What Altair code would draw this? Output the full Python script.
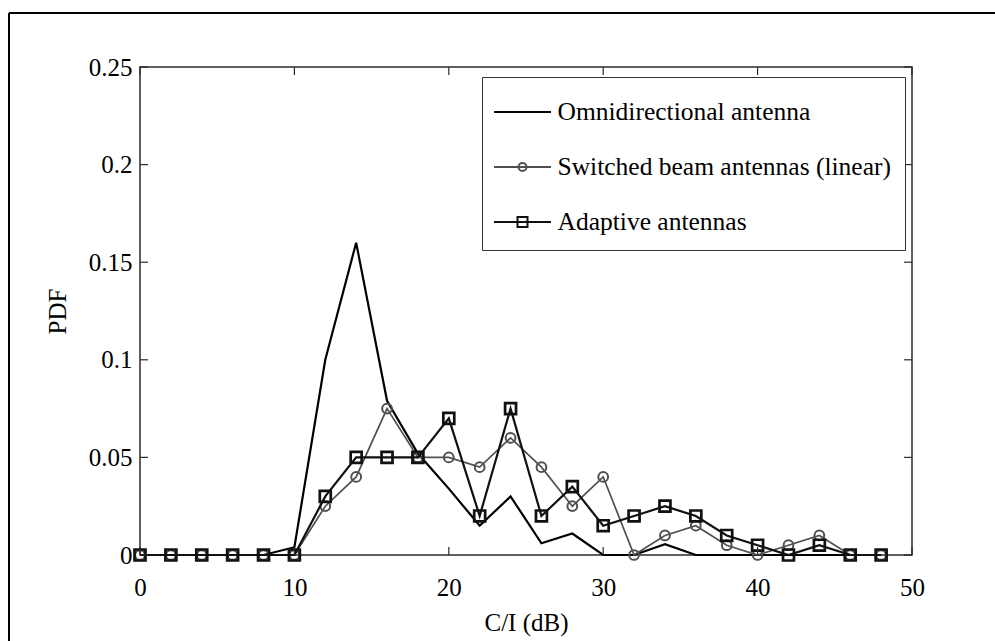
import altair as alt
import pandas as pd

# ---------------- data ----------------
x_vals = [0, 2, 4, 6, 8, 10, 12, 14, 16, 18, 20, 22, 24, 26, 28, 30, 32, 34, 36, 38, 40, 42, 44, 46, 48]
omni = [0, 0, 0, 0, 0, 0.004, 0.1, 0.16, 0.079, 0.052, 0.034, 0.015, 0.03, 0.006, 0.011,
        0, 0, 0.0055, 0, 0, 0, 0, 0, 0, 0]
switched = [0, 0, 0, 0, 0, 0, 0.025, 0.04, 0.075, 0.05, 0.05, 0.045, 0.06, 0.045, 0.025,
            0.04, 0, 0.01, 0.015, 0.005, 0, 0.005, 0.01, 0, 0]
adaptive = [0, 0, 0, 0, 0, 0, 0.03, 0.05, 0.05, 0.05, 0.07, 0.02, 0.075, 0.02, 0.035,
            0.015, 0.02, 0.025, 0.02, 0.01, 0.005, 0, 0.005, 0, 0]

series_names = ["Omnidirectional antenna", "Switched beam antennas (linear)", "Adaptive antennas"]
series_colors = ["#000000", "#505050", "#111111"]
x_ticks = [0, 10, 20, 30, 40, 50]
y_ticks = [0, 0.05, 0.1, 0.15, 0.2, 0.25]

# legend symbols: line sample with marker (custom paths, nominal radius 20 px)
legend_paths = [
    "M-1.425,0L1.425,0",
    "M-1.425,0L1.425,0M0.2,0A0.2,0.2,0,1,1,-0.2,0A0.2,0.2,0,1,1,0.2,0",
    "M-1.425,0L1.425,0M-0.25,-0.25L0.25,-0.25L0.25,0.25L-0.25,0.25Z",
]

rows = []
for name, vals in zip(series_names, [omni, switched, adaptive]):
    for xv, yv in zip(x_vals, vals):
        rows.append({"x": xv, "y": yv, "series": name})
df = pd.DataFrame(rows)

W, H = 772, 488
FONT = "Liberation Serif"
FRAME = "#2b2b2b"

xscale = alt.Scale(domain=[0, 50], nice=False, zero=False)
yscale = alt.Scale(domain=[0, 0.25], nice=False, zero=False)

x_axis = alt.Axis(values=x_ticks, ticks=False, tickSize=0, domain=False, grid=False,
                  labelFont=FONT, labelFontSize=25, labelColor="black", labelPadding=20,
                  titleFont=FONT, titleFontSize=25, titleFontWeight="normal", titleColor="black",
                  titlePadding=10, labelFlush=False)
y_axis = alt.Axis(values=y_ticks, ticks=False, tickSize=0, domain=False, grid=False,
                  labelFont=FONT, labelFontSize=25, labelColor="black", labelPadding=8,
                  labelExpr="datum.value == 0 ? '0' : format(datum.value, '~g')",
                  titleFont=FONT, titleFontSize=25, titleFontWeight="normal", titleColor="black",
                  titlePadding=18, labelFlush=False)


def X(field):
    return alt.X(field, scale=xscale, axis=x_axis, title="C/I (dB)")


def Y(field):
    return alt.Y(field, scale=yscale, axis=y_axis, title="PDF")


def sel(name):
    return alt.Chart(df).transform_filter(alt.datum.series == name)


omni_line = sel(series_names[0]).mark_line(color=series_colors[0], strokeWidth=2.2).encode(
    x=X("x:Q"), y=Y("y:Q"))

sw_line = sel(series_names[1]).mark_line(color=series_colors[1], strokeWidth=1.7).encode(
    x=X("x:Q"), y=Y("y:Q"))
sw_pts = sel(series_names[1]).mark_point(shape="circle", filled=False, color=series_colors[1],
                                          strokeWidth=2, size=95, opacity=1).encode(
    x=X("x:Q"), y=Y("y:Q"))

ad_line = sel(series_names[2]).mark_line(color=series_colors[2], strokeWidth=2.2).encode(
    x=X("x:Q"), y=Y("y:Q"))
ad_pts = sel(series_names[2]).mark_point(shape="square", filled=False, color=series_colors[2],
                                          strokeWidth=2.7, size=120, opacity=1).encode(
    x=X("x:Q"), y=Y("y:Q"))

# inward ticks on all four sides (MATLAB style)
xt = pd.DataFrame({"v": x_ticks})
yt = pd.DataFrame({"v": y_ticks})
TL = 8
tick_style = dict(color=FRAME, strokeWidth=1.2)
bottom_ticks = alt.Chart(xt).mark_rule(**tick_style).encode(
    x=X("v:Q"), y=alt.value(H), y2=alt.value(H - TL))
top_ticks = alt.Chart(xt).mark_rule(**tick_style).encode(
    x=X("v:Q"), y=alt.value(0), y2=alt.value(TL))
left_ticks = alt.Chart(yt).mark_rule(**tick_style).encode(
    y=Y("v:Q"), x=alt.value(0), x2=alt.value(TL))
right_ticks = alt.Chart(yt).mark_rule(**tick_style).encode(
    y=Y("v:Q"), x=alt.value(W), x2=alt.value(W - TL))

# outer figure frame (top and left edges)
one = pd.DataFrame({"a": [0]})
frame_top = alt.Chart(one).mark_rule(color="black", strokeWidth=2).encode(
    x=alt.value(-131), x2=alt.value(W + 83), y=alt.value(-54))
frame_left = alt.Chart(one).mark_rule(color="black", strokeWidth=2).encode(
    x=alt.value(-131), y=alt.value(-54), y2=alt.value(H + 86))

legend = alt.Legend(title=None, orient="none", legendX=342, legendY=10,
                    strokeColor="#333333", fillColor="white", padding=14,
                    labelFont=FONT, labelFontSize=25.5, labelColor="black", labelLimit=600,
                    labelOffset=14, symbolOffset=5.5, symbolSize=1600, symbolStrokeWidth=2,
                    rowPadding=20)
legend_layer = alt.Chart(df).transform_filter("false").mark_point(filled=False, strokeWidth=2, opacity=1).encode(
    shape=alt.Shape("series:N", scale=alt.Scale(domain=series_names, range=legend_paths), legend=legend),
    color=alt.Color("series:N", scale=alt.Scale(domain=series_names, range=series_colors), legend=legend),
)

chart = alt.layer(
    frame_top, frame_left,
    omni_line, sw_line, sw_pts, ad_line, ad_pts,
    bottom_ticks, top_ticks, left_ticks, right_ticks,
    legend_layer,
).properties(
    width=W, height=H,
    padding={"left": 140, "top": 67, "right": 83, "bottom": 86},
    autosize=alt.AutoSizeParams(type="none"),
    background="white",
).configure_view(stroke=FRAME, strokeWidth=1.5)

chart.save("out.html", embed_options={"renderer": "svg", "actions": False})
